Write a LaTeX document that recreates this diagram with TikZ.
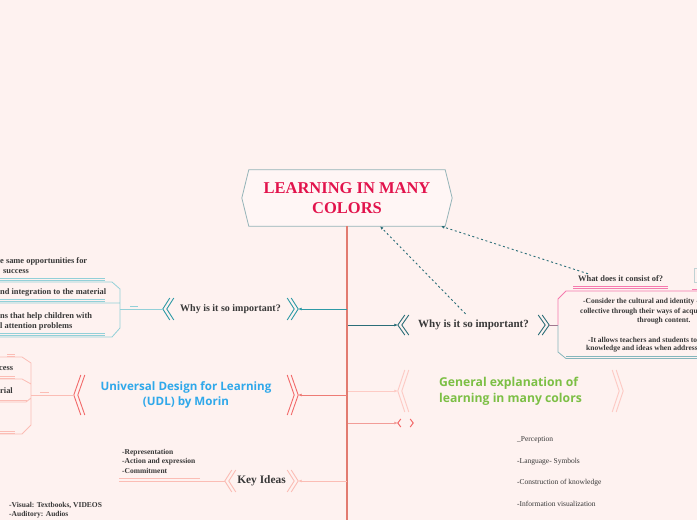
\documentclass[tikz,border=0pt]{standalone}
\usepackage{fontspec}
\setmainfont{Liberation Serif}
\newfontfamily\udlsans{Open Sans}
\usetikzlibrary{arrows.meta}

\definecolor{bgpink}{HTML}{FEF2F0}
\definecolor{boxfill}{HTML}{FFF6F5}
\definecolor{titlered}{HTML}{E2134C}
\definecolor{titleedge}{HTML}{95B4B8}
\definecolor{trunkred}{HTML}{E27B70}
\definecolor{darktext}{HTML}{383838}
\definecolor{teal}{HTML}{2E9AA6}
\definecolor{lightteal}{HTML}{93D0D8}
\definecolor{darkteal}{HTML}{2B6E78}
\definecolor{salmon}{HTML}{EE7B75}
\definecolor{chevred}{HTML}{F26A6A}
\definecolor{lightsalmon}{HTML}{FBBDB5}
\definecolor{palepink}{HTML}{FDCBC5}
\definecolor{udlblue}{HTML}{2FA8EA}
\definecolor{leafgreen}{HTML}{7CBF45}
\definecolor{hotpink}{HTML}{F57AAE}
\definecolor{greyteal}{HTML}{86B6BC}
\definecolor{mauve}{HTML}{A07890}

\tikzset{
  maintopic/.style={inner sep=0pt, minimum width=210, minimum height=56, align=center,
    font=\fontsize{16.5}{20.5}\selectfont\bfseries, text=titlered},
  topic/.style={inner sep=0pt, minimum height=22, font=\fontsize{10}{12}\selectfont\bfseries, text=darktext},
  sanstopic/.style={inner sep=0pt, minimum height=22, align=center,
    font=\udlsans\fontsize{11.6}{15.5}\selectfont\bfseries},
  note/.style={inner sep=0pt, anchor=west, align=left, font=\fontsize{7.5}{9.5}\selectfont\bfseries, text=darktext},
  bignote/.style={note, font=\fontsize{8.4}{10}\selectfont\bfseries},
  plainnote/.style={inner sep=0pt, anchor=west, font=\fontsize{7.5}{9}\selectfont, text=darktext},
  trunk/.style={draw=trunkred, line width=1.6pt},
  dashlink/.style={draw=darkteal, line width=0.9pt, dash pattern=on 2pt off 2.6pt},
}

% two nested chevrons on each side of a node
\newcommand{\dchev}[3]{%
  \draw[#3] ([shift={(7,-#2)}]#1.west) -- (#1.west) -- ([shift={(7,#2)}]#1.west)
    ([shift={(11,-#2)}]#1.west) -- ([shift={(4,0)}]#1.west) -- ([shift={(11,#2)}]#1.west);
  \draw[#3] ([shift={(-7,-#2)}]#1.east) -- (#1.east) -- ([shift={(-7,#2)}]#1.east)
    ([shift={(-11,-#2)}]#1.east) -- ([shift={(-4,0)}]#1.east) -- ([shift={(-11,#2)}]#1.east);
}

\begin{document}
\begin{tikzpicture}[x=1pt,y=-1pt,>={Latex[length=3.5pt,width=3pt]}]
\useasboundingbox (0,0) rectangle (697,520);
\fill[bgpink] (0,0) rectangle (697,520);

% central topic
\node[maintopic] (title) at (347,198) {LEARNING IN MANY\\COLORS};
\filldraw[draw=titleedge, fill=boxfill, line width=0.8pt]
  ([xshift=7pt]title.north west) -- ([xshift=-7pt]title.north east) -- (title.east)
  -- ([xshift=-7pt]title.south east) -- ([xshift=7pt]title.south west) -- (title.west) -- cycle;
\node[maintopic] at (title.center) {LEARNING IN MANY\\COLORS};
\coordinate (trend) at (347,525);
\draw[trunk] (title.south) -- (trend);

% left: why is it so important
\coordinate (tr1) at (347,309);
\node[topic, minimum width=135] (why1) at (230.5,309) {Why is it so important?};
\dchev{why1}{11}{draw=teal, line width=0.9pt}
\draw[teal, line width=0.9pt, ->] (tr1) -- (why1.east);
\coordinate (tbox) at (120,309);
\draw[lightteal, line width=0.9pt] (why1.west) -- (tbox);
\draw[lightteal, line width=0.9pt] (130,306) -- (138,306);
\draw[lightteal, line width=0.8pt] (0,282) -- (112,282) -- (120,289) -- (120,328) -- (112,337) -- (0,337)
  (0,303) -- (120,303);
\draw[lightteal, line width=0.6pt] (0,278) -- (105,278) (0,280.5) -- (105,280.5)
  (0,299.5) -- (105,299.5) (0,301.5) -- (105,301.5) (0,333) -- (105,333) (0,335) -- (105,335);
\node[bignote] (opp) at (0,266) {e same opportunities for\\\hspace*{3pt}success};
\node[bignote] (integ) at (0,293) {nd integration to the material};
\node[bignote] (attn) at (0,321) {ns that help children with\\l attention problems};

% left: UDL
\coordinate (tr2) at (347,395);
\node[sanstopic, minimum width=224, text=udlblue] (udl) at (186,395) {Universal Design for Learning\\(UDL) by Morin};
\dchev{udl}{20}{draw=chevred, line width=0.9pt}
\draw[salmon, line width=0.9pt, ->] (tr2) -- (udl.east);
\coordinate (sbox) at (31,395);
\draw[lightsalmon, line width=0.9pt] (udl.west) -- (sbox);
\draw[lightsalmon, line width=0.9pt] (40,392) -- (49,392);
\draw[lightsalmon, line width=0.8pt] (0,357) -- (22,357) -- (31,363) -- (31,425) -- (22,434) -- (0,434)
  (0,379) -- (22,379) -- (31,384) (31,398) -- (26,402) -- (0,402);
\draw[lightsalmon, line width=0.6pt] (7,354) -- (15,354) (7,356) -- (15,356)
  (0,376) -- (15,376) (0,378) -- (15,378) (0,400.5) -- (27,400.5)
  (0,431) -- (15,431) (0,433) -- (15,433);
\node[bignote] (acc) at (-1,369) {cess};
\node[bignote] (mat) at (0,391) {rial};

% left: key ideas
\coordinate (tr3) at (347,481);
\node[topic, minimum width=73, font=\fontsize{11.4}{13}\selectfont\bfseries] (key) at (261.5,481) {Key Ideas};
\dchev{key}{11}{draw=lightsalmon, line width=0.9pt}
\draw[lightsalmon, line width=0.9pt, ->] (tr3) -- (key.east);
\coordinate (kend) at (119,481);
\draw[lightsalmon, line width=0.8pt] (key.west) -- (kend) (119,478) -- (200,478);
\node[note] (udlideas) at (122,461) {-Representation\\-Action and expression\\-Commitment};
\node[note] (media) at (9,510) {-Visual: Textbooks, VIDEOS\\-Auditory: Audios};

% right: why is it so important
\coordinate (tr4) at (348,325);
\node[topic, minimum width=151, font=\fontsize{11}{13}\selectfont\bfseries] (why2) at (473.5,325) {Why is it so important?};
\dchev{why2}{10}{draw=darkteal, line width=0.9pt}
\draw[darkteal, line width=0.9pt, ->] (tr4) -- (why2.west);
\coordinate (rbox) at (558,325);
\draw[mauve, line width=0.9pt] (why2.east) -- (rbox);
\draw[hotpink, line width=0.8pt] (rbox) -- (558,299) -- (566,291) -- (697,291);
\draw[greyteal, line width=0.8pt] (rbox) -- (558,352) -- (566,358.5) -- (697,358.5) (566,356.5) -- (697,356.5);
\node[note] (c1) at (583,302) {-Consider the cultural and identity -};
\node[note] (c2) at (580,312) {collective through their ways of acqu};
\node[note] (c3) at (637,321) {through content.};
\node[note] (c4) at (588,340) {-It allows teachers and students to};
\node[note] (c5) at (586,349) {knowledge and ideas when address};
\node[bignote] (consist) at (578,279) {What does it consist of?};
\draw[hotpink, line width=0.6pt] (573,286) -- (668,286) (573,288) -- (668,288) (692,289) -- (697,289);
\draw[titleedge!60, line width=0.5pt] (697,268) -- (694,268) -- (694,282) -- (697,282);
\draw[dashlink, ->] ([xshift=-8pt]why2.north) -- ([xshift=33pt]title.south);
\draw[dashlink, ->] ([xshift=10pt,yshift=2pt]consist.north west) -- ([xshift=94pt]title.south);

% right: general explanation
\coordinate (tr5) at (348,391);
\node[sanstopic, minimum width=225, align=left, text=leafgreen,
  font=\udlsans\fontsize{12.2}{16}\selectfont\bfseries] (general) at (510.5,391) {General explanation of\\learning in many colors};
\dchev{general}{21}{draw=palepink, line width=0.9pt}
\draw[palepink, line width=0.9pt, ->] (tr5) -- (general.west);
\node[plainnote] (perc) at (517,440) {\_Perception};
\node[plainnote] (lang) at (517,462) {-Language- Symbols};
\node[plainnote] (constr) at (517,483) {-Construction of knowledge};
\node[plainnote] (visu) at (517,504) {-Information visualization};

% right: empty topic
\coordinate (tr6) at (348,423);
\node[inner sep=0pt, minimum width=15, minimum height=9] (empty) at (405.5,423) {};
\draw[chevred, line width=1pt] ([shift={(3,-4)}]empty.west) -- (empty.west) -- ([shift={(3,4)}]empty.west)
  ([shift={(-3,-4)}]empty.east) -- (empty.east) -- ([shift={(-3,4)}]empty.east);
\draw[salmon!75, line width=0.9pt, ->] (tr6) -- (empty.west);
\end{tikzpicture}
\end{document}
